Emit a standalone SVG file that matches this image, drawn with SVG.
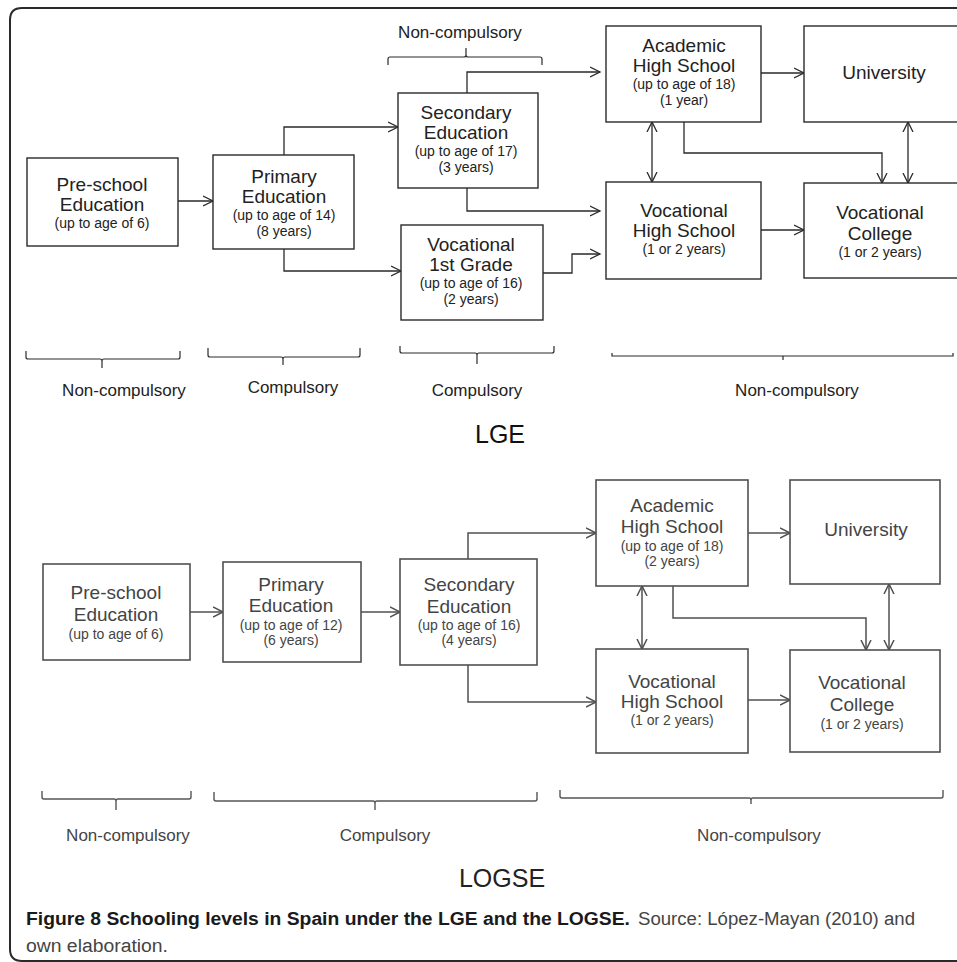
<svg xmlns="http://www.w3.org/2000/svg" width="957" height="962" viewBox="0 0 957 962">
<style>
.bg{fill:#fff}
.frame{fill:none;stroke:#2a2a2a;stroke-width:2}
.n1{fill:#fff;stroke:#2a2a2a;stroke-width:1.4}
.n2{fill:#fff;stroke:#505050;stroke-width:1.6}
.c1{fill:none;stroke:#2a2a2a;stroke-width:1.3}
.c2{fill:none;stroke:#505050;stroke-width:1.5}
.br1{fill:none;stroke:#2a2a2a;stroke-width:1.2}
.br2{fill:none;stroke:#555;stroke-width:1.4}
text{font-family:"Liberation Sans",Arial,sans-serif;text-anchor:middle}
.t1{font-size:19px;fill:#222}
.s1{font-size:14px;fill:#222}
.t2{font-size:19px;fill:#444}
.s2{font-size:14px;fill:#444}
.lab1{font-size:17px;fill:#222}
.lab2{font-size:17px;fill:#444}
.big1{font-size:25px;fill:#111}
.big2{font-size:25px;fill:#222}
.cap{font-family:"Liberation Sans Narrow","Liberation Sans",Arial,sans-serif;font-size:18px;text-anchor:start}
</style>
<defs>
<marker id="a1" markerUnits="userSpaceOnUse" markerWidth="12" markerHeight="12" refX="10" refY="6" orient="auto-start-reverse" viewBox="0 0 12 12">
<path d="M0,1 L10,6 L0,11" fill="none" stroke="#2a2a2a" stroke-width="1.3"/>
</marker>
<marker id="a2" markerUnits="userSpaceOnUse" markerWidth="12" markerHeight="12" refX="10" refY="6" orient="auto-start-reverse" viewBox="0 0 12 12">
<path d="M0,1 L10,6 L0,11" fill="none" stroke="#505050" stroke-width="1.5"/>
</marker>
</defs>
<rect class="bg" x="0" y="0" width="957" height="962"/>
<path class="frame" d="M960,8 H22 Q10,8 10,20 V949 Q10,961 22,961 H960"/>

<!-- LGE connectors -->
<g id="connectors-lge" class="c1">
<path d="M178,201 H213" marker-end="url(#a1)"/>
<path d="M284,155 V127 H398" marker-end="url(#a1)"/>
<path d="M284,249 V271 H401" marker-end="url(#a1)"/>
<path d="M467,93 V72 H600" marker-end="url(#a1)"/>
<path d="M467,188 V211 H600" marker-end="url(#a1)"/>
<path d="M543,273 H572 V254 H600" marker-end="url(#a1)"/>
<path d="M761,73 H804" marker-end="url(#a1)"/>
<path d="M652,122 V182" marker-start="url(#a1)" marker-end="url(#a1)"/>
<path d="M684,122 V153 H882 V183" marker-end="url(#a1)"/>
<path d="M908,122 V183" marker-start="url(#a1)" marker-end="url(#a1)"/>
<path d="M761,230 H804" marker-end="url(#a1)"/>
</g>

<!-- LGE nodes -->
<g id="lge-preschool">
<rect class="n1" x="27" y="158" width="151" height="88"/>
<text class="t1" x="102" y="191">Pre-school</text>
<text class="t1" x="102" y="211">Education</text>
<text class="s1" x="102" y="228">(up to age of 6)</text>
</g>
<g id="lge-primary">
<rect class="n1" x="213" y="155" width="141" height="94"/>
<text class="t1" x="284" y="183">Primary</text>
<text class="t1" x="284" y="203">Education</text>
<text class="s1" x="284" y="220">(up to age of 14)</text>
<text class="s1" x="284" y="236">(8 years)</text>
</g>
<g id="lge-secondary">
<rect class="n1" x="398" y="93" width="140" height="95"/>
<text class="t1" x="466" y="119">Secondary</text>
<text class="t1" x="466" y="139">Education</text>
<text class="s1" x="466" y="156">(up to age of 17)</text>
<text class="s1" x="466" y="172">(3 years)</text>
</g>
<g id="lge-voc1st">
<rect class="n1" x="401" y="225" width="142" height="95"/>
<text class="t1" x="471" y="251">Vocational</text>
<text class="t1" x="471" y="271">1st Grade</text>
<text class="s1" x="471" y="288">(up to age of 16)</text>
<text class="s1" x="471" y="304">(2 years)</text>
</g>
<g id="lge-academic">
<rect class="n1" x="606" y="26" width="155" height="96"/>
<text class="t1" x="684" y="52">Academic</text>
<text class="t1" x="684" y="72">High School</text>
<text class="s1" x="684" y="89">(up to age of 18)</text>
<text class="s1" x="684" y="105">(1 year)</text>
</g>
<g id="lge-university">
<rect class="n1" x="804" y="26" width="162" height="96"/>
<text class="t1" x="884" y="79">University</text>
</g>
<g id="lge-vochs">
<rect class="n1" x="606" y="182" width="155" height="97"/>
<text class="t1" x="684" y="217">Vocational</text>
<text class="t1" x="684" y="237">High School</text>
<text class="s1" x="684" y="254">(1 or 2 years)</text>
</g>
<g id="lge-voccollege">
<rect class="n1" x="804" y="183" width="162" height="95"/>
<text class="t1" x="880" y="219">Vocational</text>
<text class="t1" x="880" y="240">College</text>
<text class="s1" x="880" y="257">(1 or 2 years)</text>
</g>

<!-- LGE braces and labels -->
<g id="lge-brackets" class="br1">
<path d="M388,65 V59 Q388,57 390,57 H464 Q466,57 466,55 V48 M466,55 Q466,57 468,57 H540 Q542,57 542,59 V65"/>
<path d="M26,351 V357 Q26,359 28,359 H100 Q102,359 102,361 V368 M102,361 Q102,359 104,359 H178 Q180,359 180,357 V351"/>
<path d="M208,348 V355 Q208,357 210,357 H281 Q283,357 283,359 V365 M283,359 Q283,357 285,357 H358 Q360,357 360,355 V348"/>
<path d="M400,346 V351 Q400,353 402,353 H475 Q477,353 477,355 V364 M477,355 Q477,353 479,353 H552 Q554,353 554,351 V346"/>
<path d="M612,353 V356 H953 V353 M783,356 V360"/>
</g>
<g id="lge-labels">
<text class="lab1" x="460" y="38">Non-compulsory</text>
<text class="lab1" x="124" y="396">Non-compulsory</text>
<text class="lab1" x="293" y="393">Compulsory</text>
<text class="lab1" x="477" y="396">Compulsory</text>
<text class="lab1" x="797" y="396">Non-compulsory</text>
<text class="big1" x="500" y="443">LGE</text>
</g>

<!-- LOGSE connectors -->
<g id="connectors-logse" class="c2">
<path d="M190,612 H223" marker-end="url(#a2)"/>
<path d="M361,612 H400" marker-end="url(#a2)"/>
<path d="M468,559 V533 H596" marker-end="url(#a2)"/>
<path d="M468,665 V702 H596" marker-end="url(#a2)"/>
<path d="M748,533 H790" marker-end="url(#a2)"/>
<path d="M642,586 V649" marker-start="url(#a2)" marker-end="url(#a2)"/>
<path d="M673,586 V618 H866 V650" marker-end="url(#a2)"/>
<path d="M889,584 V650" marker-start="url(#a2)" marker-end="url(#a2)"/>
<path d="M748,700 H790" marker-end="url(#a2)"/>
</g>

<!-- LOGSE nodes -->
<g id="logse-preschool">
<rect class="n2" x="43" y="564" width="147" height="96"/>
<text class="t2" x="116" y="599">Pre-school</text>
<text class="t2" x="116" y="621">Education</text>
<text class="s2" x="116" y="639">(up to age of 6)</text>
</g>
<g id="logse-primary">
<rect class="n2" x="223" y="562" width="138" height="100"/>
<text class="t2" x="291" y="591">Primary</text>
<text class="t2" x="291" y="612">Education</text>
<text class="s2" x="291" y="630">(up to age of 12)</text>
<text class="s2" x="291" y="645">(6 years)</text>
</g>
<g id="logse-secondary">
<rect class="n2" x="400" y="559" width="137" height="106"/>
<text class="t2" x="469" y="591">Secondary</text>
<text class="t2" x="469" y="613">Education</text>
<text class="s2" x="469" y="630">(up to age of 16)</text>
<text class="s2" x="469" y="645">(4 years)</text>
</g>
<g id="logse-academic">
<rect class="n2" x="596" y="480" width="152" height="106"/>
<text class="t2" x="672" y="512">Academic</text>
<text class="t2" x="672" y="533">High School</text>
<text class="s2" x="672" y="551">(up to age of 18)</text>
<text class="s2" x="672" y="566">(2 years)</text>
</g>
<g id="logse-university">
<rect class="n2" x="790" y="480" width="150" height="104"/>
<text class="t2" x="866" y="536">University</text>
</g>
<g id="logse-vochs">
<rect class="n2" x="596" y="649" width="152" height="104"/>
<text class="t2" x="672" y="688">Vocational</text>
<text class="t2" x="672" y="708">High School</text>
<text class="s2" x="672" y="725">(1 or 2 years)</text>
</g>
<g id="logse-voccollege">
<rect class="n2" x="790" y="650" width="150" height="102"/>
<text class="t2" x="862" y="689">Vocational</text>
<text class="t2" x="862" y="711">College</text>
<text class="s2" x="862" y="729">(1 or 2 years)</text>
</g>

<!-- LOGSE brackets and labels -->
<g id="logse-brackets" class="br2">
<path d="M42,791 V797 Q42,799 44,799 H114 Q116,799 116,801 V810 M116,801 Q116,799 118,799 H189 Q191,799 191,797 V791"/>
<path d="M214,792 V799 Q214,801 216,801 H373 Q375,801 375,803 V810 M375,803 Q375,801 377,801 H535 Q537,801 537,799 V792"/>
<path d="M560,790 V796 Q560,798 562,798 H749 Q751,798 751,800 V804 M751,800 Q751,798 753,798 H941 Q943,798 943,796 V790"/>
</g>
<g id="logse-labels">
<text class="lab2" x="128" y="841">Non-compulsory</text>
<text class="lab2" x="385" y="841">Compulsory</text>
<text class="lab2" x="759" y="841">Non-compulsory</text>
<text class="big2" x="502" y="887">LOGSE</text>
</g>

<!-- caption -->
<g id="caption">
<text class="cap" x="26" y="925" font-weight="bold" fill="#1a1a1a" textLength="604" lengthAdjust="spacingAndGlyphs">Figure 8 Schooling levels in Spain under the LGE and the LOGSE.</text>
<text class="cap" x="638" y="925" fill="#444" textLength="277" lengthAdjust="spacingAndGlyphs">Source: López-Mayan (2010) and</text>
<text class="cap" x="26" y="952" fill="#444" textLength="142" lengthAdjust="spacingAndGlyphs">own elaboration.</text>
</g>
</svg>
